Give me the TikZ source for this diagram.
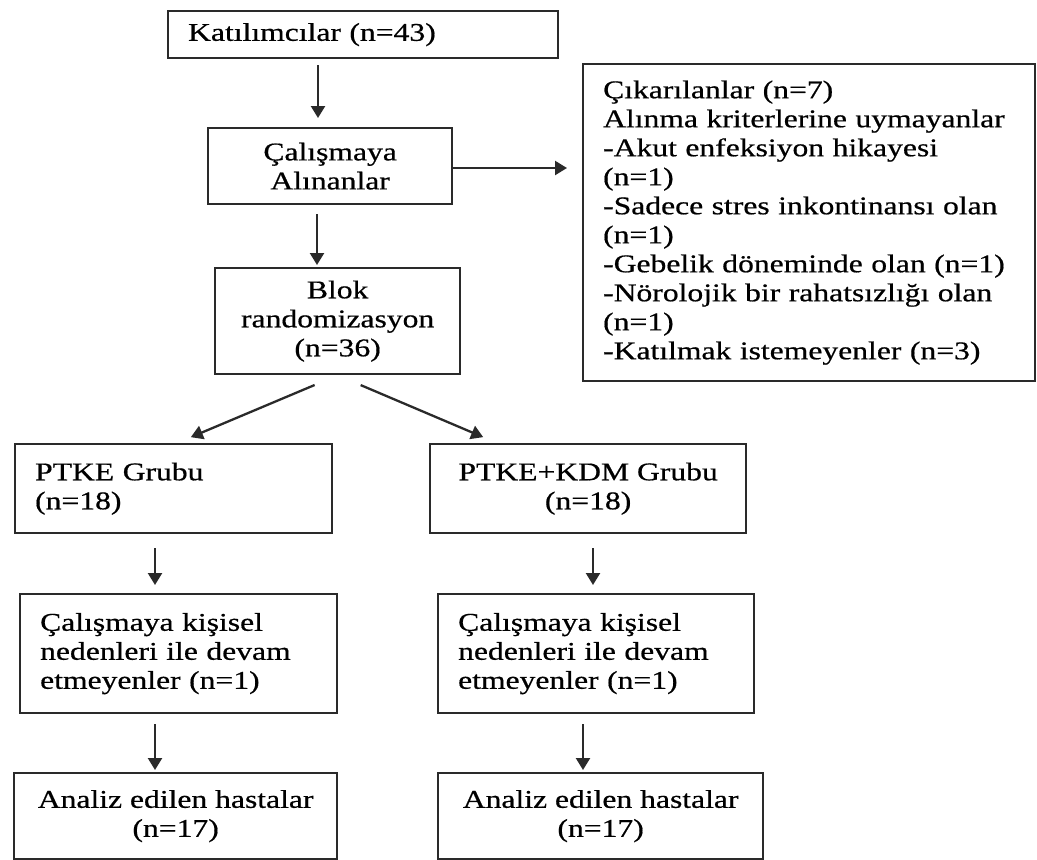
\documentclass[tikz,border=0pt]{standalone}
\usepackage{fontspec}
\setmainfont{Liberation Serif}[FakeStretch=1.24,FakeBold=0.6]
\usetikzlibrary{arrows.meta}
\definecolor{edge}{HTML}{2A2A2A}
\begin{document}
\begin{tikzpicture}[x=1pt,y=-1pt,
  box/.style={draw=edge, line width=2.3pt, inner xsep=20pt, inner ysep=4pt,
    font=\fontsize{25.5}{29}\selectfont, anchor=north west},
  lbox/.style={box, align=left},
  cbox/.style={box, align=center},
  arr/.style={draw=edge, line width=2.3pt, -{Triangle[length=12pt,width=14pt]}}]
\useasboundingbox (0,0) rectangle (1037,860);

\node[lbox, text width=350pt, minimum height=47pt] (kat) at (167,10) {Katılımcılar (n=43)};
\node[cbox, minimum width=244pt, minimum height=76pt] (cal) at (207,127) {Çalışmaya\\Alınanlar};
\node[lbox, text width=412pt, minimum height=317pt] (cik) at (582,63)
  {\mbox{Çıkarılanlar (n=7)}\\
   \mbox{Alınma kriterlerine uymayanlar}\\
   \mbox{-Akut enfeksiyon hikayesi}\\
   (n=1)\\
   \mbox{-Sadece stres inkontinansı olan}\\
   (n=1)\\
   \mbox{-Gebelik döneminde olan (n=1)}\\
   \mbox{-Nörolojik bir rahatsızlığı olan}\\
   (n=1)\\
   \mbox{-Katılmak istemeyenler (n=3)}};
\node[cbox, minimum width=245pt, minimum height=106pt] (blok) at (214,267) {Blok\\randomizasyon\\(n=36)};
\node[lbox, text width=277pt, minimum height=89pt] (ptke) at (14,443) {\mbox{PTKE Grubu}\\(n=18)};
\node[cbox, minimum width=316pt, minimum height=89pt] (kdm) at (429,443) {PTKE+KDM Grubu\\(n=18)};
\node[lbox, text width=277pt, minimum height=119pt] (d1) at (19,593)
  {\mbox{Çalışmaya kişisel}\\\mbox{nedenleri ile devam}\\\mbox{etmeyenler (n=1)}};
\node[lbox, text width=276pt, minimum height=119pt] (d2) at (437,593)
  {\mbox{Çalışmaya kişisel}\\\mbox{nedenleri ile devam}\\\mbox{etmeyenler (n=1)}};
\node[cbox, minimum width=323pt, minimum height=86pt] (a1) at (13,772) {Analiz edilen hastalar\\(n=17)};
\node[cbox, minimum width=325pt, minimum height=86pt] (a2) at (437,772) {Analiz edilen hastalar\\(n=17)};

\coordinate (xa) at (318,0);
\coordinate (xb) at (317,0);
\coordinate (yh) at (0,168);
\coordinate (xl) at (155,0);
\coordinate (xr1) at (593,0);
\coordinate (xr2) at (583,0);
\coordinate (dl) at (177,0);
\coordinate (dr) at (497,0);

\draw[arr, shorten <=6pt, shorten >=9pt] (kat.south -| xa) -- (cal.north -| xa);
\draw[arr, shorten <=9pt, shorten >=2pt] (cal.south -| xb) -- (blok.north -| xb);
\draw[arr, shorten >=15pt] (cal.east |- yh) -- (cik.west |- yh);
\draw[arr, shorten <=25pt, shorten >=15pt] (blok.south) -- (ptke.north -| dl);
\draw[arr, shorten <=25pt, shorten >=15pt] (blok.south) -- (kdm.north -| dr);
\draw[arr, shorten <=14pt, shorten >=8pt] (ptke.south -| xl) -- (d1.north -| xl);
\draw[arr, shorten <=14pt, shorten >=8pt] (kdm.south -| xr1) -- (d2.north -| xr1);
\draw[arr, shorten <=10pt, shorten >=2pt] (d1.south -| xl) -- (a1.north -| xl);
\draw[arr, shorten <=10pt, shorten >=2pt] (d2.south -| xr2) -- (a2.north -| xr2);
\end{tikzpicture}
\end{document}
